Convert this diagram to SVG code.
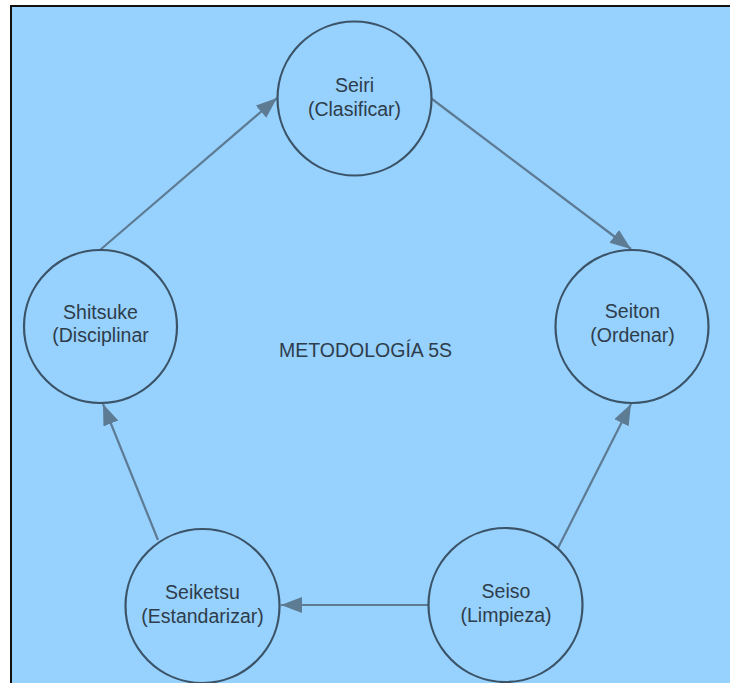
<svg xmlns="http://www.w3.org/2000/svg" width="730" height="683" viewBox="0 0 730 683">
<style>
.node circle{fill:none;stroke:#3b5367;stroke-width:2.2}
.node text,.title{font-family:"Liberation Sans",Arial,sans-serif;font-size:19.5px;fill:#2e3d4b;text-anchor:middle}
.conn line{stroke:#5d7b93;stroke-width:2.2;marker-end:url(#ah)}
</style>
<defs>
<marker id="ah" markerUnits="userSpaceOnUse" markerWidth="24" markerHeight="18" refX="21" refY="8" orient="auto">
<path d="M0,0 L21,8 L0,16 z" fill="#5d7b93"/>
</marker>
</defs>
<rect x="0" y="0" width="730" height="683" fill="#ffffff"/>
<rect x="11" y="6" width="740" height="700" fill="#97d1fe" stroke="#111" stroke-width="2"/>
<g id="connectors" class="conn">
<line x1="432" y1="99" x2="631" y2="249"/>
<line x1="558" y1="548" x2="631" y2="404"/>
<line x1="428" y1="605" x2="281" y2="605"/>
<line x1="158" y1="540" x2="103" y2="404"/>
<line x1="100" y1="250" x2="277" y2="98"/>
</g>
<g id="seiri" class="node">
<circle cx="354.5" cy="98.5" r="77"/>
<text x="354.5" y="92">Seiri</text>
<text x="354.5" y="116">(Clasificar)</text>
</g>
<g id="seiton" class="node">
<circle cx="632" cy="326.5" r="76.5"/>
<text x="632.5" y="318">Seiton</text>
<text x="632.5" y="342">(Ordenar)</text>
</g>
<g id="seiso" class="node">
<circle cx="505.5" cy="605" r="77"/>
<text x="506" y="598">Seiso</text>
<text x="506" y="622">(Limpieza)</text>
</g>
<g id="seiketsu" class="node">
<circle cx="202.5" cy="606" r="77"/>
<text x="202.5" y="599">Seiketsu</text>
<text x="202.5" y="623">(Estandarizar)</text>
</g>
<g id="shitsuke" class="node">
<circle cx="100.5" cy="326.5" r="76.5"/>
<text x="100.5" y="319">Shitsuke</text>
<text x="100.5" y="342">(Disciplinar</text>
</g>
<text id="title" class="title" x="365.5" y="357">METODOLOGÍA 5S</text>
</svg>
